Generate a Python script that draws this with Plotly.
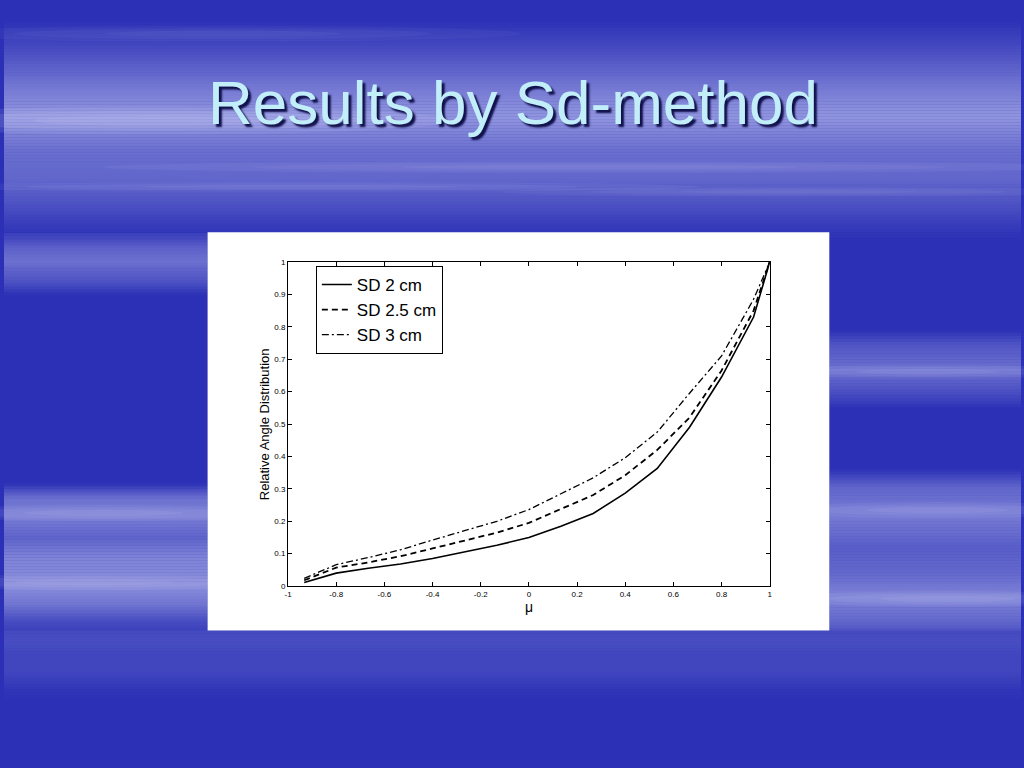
import numpy as np
import plotly.graph_objects as go

# ---- data ----
mu = [-0.933, -0.8, -0.667, -0.533, -0.4, -0.267, -0.133, 0.0, 0.133, 0.267,
      0.4, 0.533, 0.667, 0.8, 0.933, 1.0]
sd_2 = [0.011, 0.040, 0.055, 0.068, 0.085, 0.105, 0.126, 0.150, 0.185, 0.224,
        0.287, 0.363, 0.490, 0.645, 0.830, 1.0]
sd_25 = [0.018, 0.057, 0.073, 0.092, 0.116, 0.141, 0.165, 0.195, 0.237, 0.281,
         0.342, 0.420, 0.520, 0.665, 0.850, 1.0]
sd_3 = [0.024, 0.066, 0.088, 0.112, 0.142, 0.170, 0.200, 0.236, 0.284, 0.334,
        0.396, 0.475, 0.595, 0.710, 0.885, 1.0]
series_names = ["SD 2 cm", "SD 2.5 cm", "SD 3 cm"]
x_ticks = [-1, -0.8, -0.6, -0.4, -0.2, 0, 0.2, 0.4, 0.6, 0.8, 1]
x_tick_labels = ["-1", "-0.8", "-0.6", "-0.4", "-0.2", "0", "0.2", "0.4", "0.6", "0.8", "1"]
y_ticks = [0, 0.1, 0.2, 0.3, 0.4, 0.5, 0.6, 0.7, 0.8, 0.9, 1]
y_tick_labels = ["0", "0.1", "0.2", "0.3", "0.4", "0.5", "0.6", "0.7", "0.8", "0.9", "1"]
title_text = "Results by Sd-method"
x_title = "μ"
y_title = "Relative Angle Distribution"

W, H = 1024, 768


def px(x):
    return x / W


def py(y):
    return 1 - y / H


fig = go.Figure()
styles = [dict(dash="solid", width=1.6),
          dict(dash="6px,4px", width=1.8),
          dict(dash="7px,3px,2px,3px", width=1.3)]
for name, ys, st in zip(series_names, [sd_2, sd_25, sd_3], styles):
    fig.add_trace(go.Scatter(x=mu, y=ys, mode="lines", name=name,
                             line=dict(color="black", **st)))

shapes = []


def gradient_band(xa, xb, prof_y, prof_a, step=3):
    for y0 in range(int(prof_y[0]), int(prof_y[-1]), step):
        a = float(np.interp(y0 + step / 2, prof_y, prof_a))
        if a <= 0.001:
            continue
        shapes.append(dict(type="rect", xref="paper", yref="paper", layer="below",
                           x0=px(xa), x1=px(xb), y0=py(min(y0 + step, prof_y[-1])),
                           y1=py(y0),
                           fillcolor="rgba(230,233,255,%.3f)" % a,
                           line=dict(width=0)))


# light band behind the title
gradient_band(0, W, [15, 40, 70, 95, 115, 135, 150, 175, 200, 225, 240],
              [0.0, 0.12, 0.30, 0.45, 0.55, 0.42, 0.33, 0.30, 0.20, 0.06, 0.0])
# left-side cloud bands (beside the white panel)
gradient_band(0, 205, [232, 245, 260, 280, 295],
              [0.05, 0.25, 0.35, 0.2, 0.0])
gradient_band(0, 205, [485, 500, 520, 540, 560, 590, 610, 625, 634],
              [0.0, 0.35, 0.42, 0.28, 0.45, 0.5, 0.35, 0.15, 0.1])
# right-side cloud bands
gradient_band(831, W, [330, 345, 370, 395, 410],
              [0.0, 0.2, 0.35, 0.15, 0.0])
gradient_band(831, W, [470, 490, 520, 550, 575, 600, 625, 634],
              [0.0, 0.3, 0.4, 0.25, 0.3, 0.45, 0.3, 0.2])
# faint streaks below the panel, across the full width
gradient_band(0, W, [634, 645, 660, 675, 690, 705],
              [0.14, 0.16, 0.12, 0.12, 0.05, 0.0])

# soft cloud streaks (cx, cy, rx, ry, alpha)
clouds = [
    (150, 118, 300, 14, 0.25),
    (600, 165, 500, 6, 0.15),
    (300, 185, 400, 5, 0.15),
    (800, 190, 300, 5, 0.12),
    (220, 30, 300, 8, 0.10),
    (100, 515, 200, 8, 0.18),
    (90, 585, 200, 8, 0.18),
    (930, 372, 180, 7, 0.18),
    (940, 512, 180, 8, 0.18),
    (950, 602, 170, 8, 0.18),
]
for cx, cy, rx, ry, a in clouds:
    for s in (1.0, 0.7, 0.4):
        shapes.append(dict(type="circle", xref="paper", yref="paper", layer="below",
                           x0=px(cx - rx * s), x1=px(cx + rx * s),
                           y0=py(cy + ry * s), y1=py(cy - ry * s),
                           fillcolor="rgba(225,228,255,%.3f)" % (a / 2.5),
                           line=dict(width=0)))
# white panel holding the figure
shapes.append(dict(type="rect", xref="paper", yref="paper", layer="below",
                   x0=px(205), x1=px(831), y0=py(634), y1=py(231),
                   fillcolor="white", line=dict(width=0)))

annotations = [
    dict(text=title_text, x=px(512), y=py(100), xref="paper", yref="paper",
         xanchor="center", yanchor="middle", showarrow=False,
         font=dict(family="Arial, Liberation Sans", size=62, color="#c2eef9",
                   shadow="3px 3px 2px #10104a")),
    dict(text=y_title, x=px(262), y=py(425), xref="paper", yref="paper",
         xanchor="center", yanchor="middle", showarrow=False, textangle=-90,
         font=dict(family="Arial, Liberation Sans", size=13, color="black")),
    dict(text=x_title, x=px(529), y=py(610), xref="paper", yref="paper",
         xanchor="center", yanchor="middle", showarrow=False,
         font=dict(family="Arial, Liberation Sans", size=14, color="black")),
]

axis_common = dict(showline=True, linecolor="black", linewidth=1, mirror="ticks",
                   ticks="inside", ticklen=4, tickcolor="black", showgrid=False,
                   zeroline=False,
                   tickfont=dict(family="Arial, Liberation Sans", size=8, color="black"))

fig.update_layout(
    width=W, height=H, margin=dict(l=0, r=0, t=0, b=0),
    paper_bgcolor="#2b30b6", plot_bgcolor="white",
    shapes=shapes, annotations=annotations,
    xaxis=dict(domain=[px(286), px(771)], range=[-1, 1], tickvals=x_ticks,
               ticktext=x_tick_labels, **axis_common),
    yaxis=dict(domain=[py(589), py(261)], range=[0, 1], tickvals=y_ticks,
               ticktext=y_tick_labels, **axis_common),
    legend=dict(x=px(314), y=py(265), xanchor="left", yanchor="top",
                bgcolor="white", bordercolor="black", borderwidth=1,
                font=dict(family="Arial, Liberation Sans", size=17, color="black"),
                tracegroupgap=0, itemwidth=30),
    showlegend=True,
)

fig.write_html("out.html",
               config={"displayModeBar": False},
               post_script="document.body.style.margin='0';"
                           "document.body.style.overflow='hidden';")
